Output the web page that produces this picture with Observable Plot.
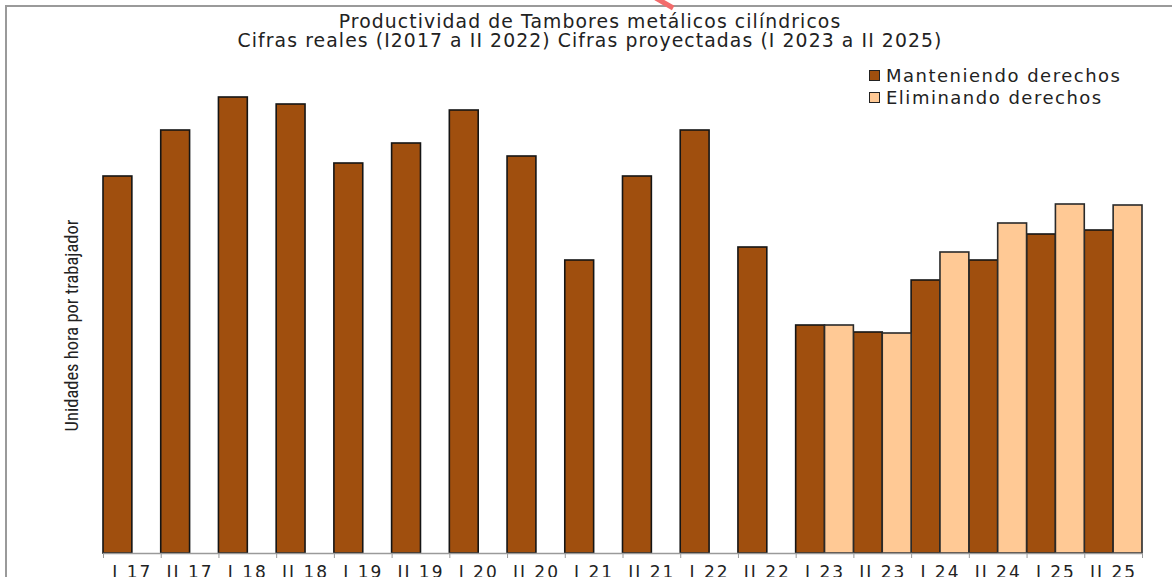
<!DOCTYPE html>
<html>
<head>
<meta charset="utf-8">
<script src="https://cdn.jsdelivr.net/npm/d3@7"></script>
<script src="https://cdn.jsdelivr.net/npm/@observablehq/plot@0.6"></script>
<style>
  html, body { margin: 0; padding: 0; background: #fff; }
  body { width: 1172px; height: 577px; position: relative; overflow: hidden; font-family: "DejaVu Sans", Verdana, sans-serif; }
  #frameTop { position: absolute; left: 6px; top: 5px; right: 0; height: 0; border-top: 2px solid #9a9a9a; }
  #frameLeft { position: absolute; left: 5px; top: 5px; bottom: 0; width: 0; border-left: 2px solid #9a9a9a; }
  #title { position: absolute; left: 0; width: 1180px; top: 12px; text-align: center; font-size: 18.8px; line-height: 19px; color: #222; letter-spacing: 1.1px; }
  #legend { position: absolute; left: 869px; top: 64px; font-size: 18px; color: #222; letter-spacing: 1.5px; }
  .li { height: 22px; display: flex; align-items: center; }
  .sw { width: 9px; height: 9px; border: 1px solid #222; margin-right: 6px; }
  #chart { position: absolute; left: 0; top: 0; }
  #slash { position: absolute; left: 662px; top: -7px; width: 5px; height: 20px; background: #f26b6b; transform: rotate(-60deg); }
</style>
</head>
<body>
<div id="chart"></div>
<div id="frameTop"></div>
<div id="frameLeft"></div>
<div id="slash"></div>
<div id="title"></div>
<div id="legend"></div>
<script>
const titleLines = [
  "Productividad de Tambores metálicos cilíndricos",
  "Cifras reales (I2017 a II 2022) Cifras proyectadas (I 2023 a II 2025)"
];
const yLabel = "Unidades hora por trabajador";
const categories = ["I 17","II 17","I 18","II 18","I 19","II 19","I 20","II 20","I 21","II 21","I 22","II 22","I 23","II 23","I 24","II 24","I 25","II 25"];
const seriesNames = ["Manteniendo derechos", "Eliminando derechos"];
const manteniendo = [377, 423, 456, 449, 390, 410, 443, 397, 293, 377, 423, 306, 228, 221, 273, 293, 319, 323];
const eliminando  = [null, null, null, null, null, null, null, null, null, null, null, null, 228, 220, 301, 330, 349, 348];
const colors = ["#a04f0e", "#ffc995"];

const W = 1172, H = 577;
const mL = 103, mR = 30, mT = 97, mB = 24;
const bw = (W - mL - mR) / categories.length;

const dataM = categories.map((c, i) => ({cat: c, serie: seriesNames[0], value: manteniendo[i]}));
const dataE = categories.map((c, i) => ({cat: c, serie: seriesNames[1], value: eliminando[i]})).filter(d => d.value != null);

document.getElementById("title").innerHTML = titleLines.map(t => `<div>${t}</div>`).join("");
document.getElementById("legend").innerHTML = seriesNames.map((s, i) =>
  `<div class="li"><span class="sw" style="background:${colors[i]}"></span><span>${s}</span></div>`).join("");

const chart = Plot.plot({
  width: W, height: H,
  marginLeft: mL, marginRight: mR, marginTop: mT, marginBottom: mB,
  style: {fontFamily: "'DejaVu Sans', Verdana, sans-serif", background: "transparent", overflow: "visible"},
  x: {domain: categories, padding: 0, round: false},
  y: {domain: [0, 456], axis: null},
  marks: [
    Plot.barY(dataM, {x: "cat", y: "value", fill: colors[0], stroke: "#151515", strokeWidth: 1.6, insetRight: bw / 2}),
    Plot.barY(dataE, {x: "cat", y: "value", fill: colors[1], stroke: "#2a2a2a", strokeWidth: 1.6, insetLeft: bw / 2}),
    Plot.ruleY([0], {stroke: "#9a9a9a", strokeWidth: 1.5}),
    Plot.axisX({tickSize: 5, stroke: "#9a9a9a", dx: -bw / 2, text: null, label: null}),
    Plot.axisX([categories[categories.length - 1]], {tickSize: 5, stroke: "#9a9a9a", dx: bw / 2, text: null, label: null}),
    Plot.axisX({tickSize: 0, tickPadding: 12, fontSize: 17, fill: "#222", label: null}),
    Plot.text([yLabel], {frameAnchor: "left", textAnchor: "middle", dx: -31, rotate: -90, fontSize: 18.5, fill: "#222",
      fontFamily: "'Liberation Sans Narrow', 'Arial Narrow', 'Roboto Condensed', sans-serif"})
  ]
});
document.getElementById("chart").appendChild(chart);
chart.querySelectorAll("g[aria-label='x-axis tick label'] text").forEach(t => t.setAttribute("letter-spacing", "2"));
</script>
</body>
</html>
